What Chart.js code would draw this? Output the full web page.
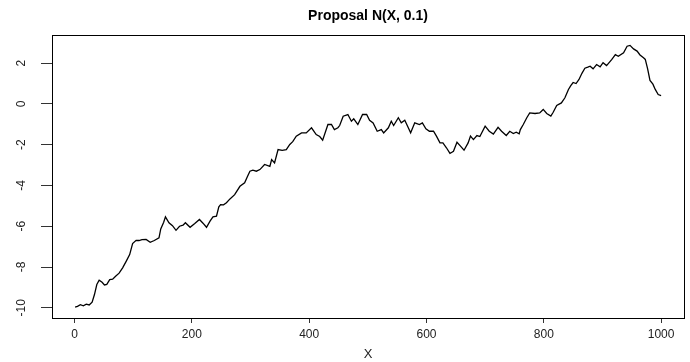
<!DOCTYPE html>
<html>
<head>
<meta charset="utf-8">
<script src="https://cdn.jsdelivr.net/npm/chart.js@4"></script>
<style>
  html, body { margin: 0; padding: 0; background: #fff; }
  canvas { display: block; }
</style>
</head>
<body>
<canvas id="c" width="690" height="362"></canvas>
<script>
// Iteration index of each sampled state of the chain
const iterX = [
  1, 5, 10, 15, 20, 25, 30, 34, 38, 42, 47, 51, 55, 60, 65, 70, 76, 82, 88, 94,
  99, 105, 110, 115, 122, 129, 136, 144, 147, 152, 155, 161, 167, 173, 179, 185, 189, 197, 205, 213,
  219, 225, 231, 236, 242, 246, 249, 254, 259, 265, 273, 282, 290, 295, 299, 304, 310, 316, 324, 333,
  336, 341, 347, 354, 361, 367, 372, 378, 387, 395, 404, 412, 418, 423, 432, 438, 443, 449, 452, 458,
  466, 472, 476, 483, 491, 498, 503, 509, 516, 523, 527, 535, 540, 544, 552, 557, 563, 569, 573, 580,
  588, 593, 599, 605, 612, 617, 623, 628, 634, 640, 646, 652, 658, 664, 671, 675, 680, 686, 691, 700,
  707, 714, 722, 728, 736, 742, 748, 753, 758, 760, 765, 771, 776, 785, 793, 799, 805, 812, 816, 822,
  830, 836, 842, 846, 850, 855, 860, 865, 870, 875, 879, 884, 890, 896, 901, 907, 916, 922, 927, 936,
  942, 947, 953, 959, 964, 970, 973, 977, 981, 986, 990, 995, 1000
];

// State value X at each of those iterations
const chainY = [
  -9.97, -9.93, -9.85, -9.90, -9.82, -9.86, -9.72, -9.35, -8.86, -8.65, -8.75, -8.88, -8.85, -8.62, -8.60, -8.45, -8.30, -8.04, -7.72, -7.39,
  -6.85, -6.69, -6.70, -6.66, -6.65, -6.79, -6.70, -6.57, -6.13, -5.80, -5.54, -5.83, -5.97, -6.20, -6.00, -5.95, -5.83, -6.05, -5.87, -5.67,
  -5.85, -6.05, -5.75, -5.54, -5.51, -5.05, -4.94, -4.95, -4.85, -4.66, -4.45, -4.04, -3.87, -3.55, -3.30, -3.25, -3.30, -3.22, -2.97, -3.06,
  -2.73, -2.89, -2.24, -2.28, -2.24, -1.99, -1.85, -1.58, -1.42, -1.42, -1.17, -1.50, -1.60, -1.78, -1.01, -1.01, -1.26, -1.17, -1.06, -0.60,
  -0.52, -0.85, -0.73, -1.01, -0.52, -0.52, -0.80, -0.93, -1.34, -1.26, -1.42, -1.17, -0.85, -1.06, -0.68, -0.93, -0.80, -1.17, -1.42, -0.93,
  -1.01, -0.93, -1.22, -1.34, -1.34, -1.58, -1.91, -1.91, -2.15, -2.43, -2.32, -1.88, -2.07, -2.27, -1.91, -1.58, -1.75, -1.55, -1.60, -1.09,
  -1.34, -1.48, -1.15, -1.34, -1.55, -1.34, -1.45, -1.39, -1.47, -1.26, -1.01, -0.68, -0.44, -0.47, -0.44, -0.27, -0.47, -0.60, -0.41, -0.08,
  0.05, 0.30, 0.71, 0.90, 1.05, 1.00, 1.20, 1.50, 1.75, 1.80, 1.85, 1.72, 1.93, 1.82, 2.02, 1.88, 2.18, 2.42, 2.34, 2.51,
  2.83, 2.87, 2.70, 2.59, 2.40, 2.26, 2.18, 1.72, 1.15, 0.97, 0.71, 0.46, 0.41
];

const xTicks = [0, 200, 400, 600, 800, 1000];
const yTicks = [-10, -8, -6, -4, -2, 0, 2];
const titleText = 'Proposal N(X, 0.1)';
const xAxisLabel = 'X';

const FONT = "'Liberation Sans', Arial, Helvetica, sans-serif";

// Box around the plot region, rotated y labels, title and x label
const decorations = {
  id: 'decorations',
  afterDraw(chart) {
    const { ctx, chartArea: ca, scales } = chart;
    ctx.save();
    ctx.strokeStyle = '#000';
    ctx.lineWidth = 1;
    ctx.strokeRect(ca.left + 0.5, ca.top + 0.5, ca.width, ca.height);

    ctx.fillStyle = '#222';
    ctx.font = '12px ' + FONT;
    ctx.textAlign = 'center';
    ctx.textBaseline = 'middle';
    yTicks.forEach(v => {
      const py = scales.y.getPixelForValue(v);
      ctx.save();
      ctx.translate(22, py);
      ctx.rotate(-Math.PI / 2);
      ctx.fillText(String(v), 0, 0);
      ctx.restore();
    });

    const cx = (ca.left + ca.right) / 2;
    ctx.fillStyle = '#000';
    ctx.font = 'bold 14px ' + FONT;
    ctx.fillText(titleText, cx, 16);

    ctx.fillStyle = '#222';
    ctx.font = '13px ' + FONT;
    ctx.fillText(xAxisLabel, cx, 354);
    ctx.restore();
  }
};

new Chart(document.getElementById('c'), {
  type: 'line',
  data: {
    datasets: [{
      data: iterX.map((x, i) => ({ x: x, y: chainY[i] })),
      borderColor: '#000',
      borderWidth: 1.3,
      pointRadius: 0,
      tension: 0,
      fill: false
    }]
  },
  options: {
    responsive: false,
    animation: false,
    layout: { padding: { top: 35, right: 6, left: 0, bottom: 0 } },
    plugins: { legend: { display: false }, tooltip: { enabled: false }, title: { display: false } },
    scales: {
      x: {
        type: 'linear',
        min: -38.4,
        max: 1039,
        afterBuildTicks: s => { s.ticks = xTicks.map(v => ({ value: v })); },
        afterFit: s => { s.height = 44; },
        border: { display: false },
        grid: { drawOnChartArea: false, drawTicks: true, tickLength: 5, color: '#333' },
        ticks: {
          font: { family: FONT, size: 12 }, color: '#222', padding: 4,
          maxRotation: 0, autoSkip: false,
          callback: v => String(v)
        }
      },
      y: {
        type: 'linear',
        min: -10.5,
        max: 3.38,
        afterBuildTicks: s => { s.ticks = yTicks.map(v => ({ value: v })); },
        afterFit: s => { s.width = 52; },
        border: { display: false },
        grid: { drawOnChartArea: false, drawTicks: true, tickLength: 11, color: '#333' },
        ticks: { color: 'rgba(0,0,0,0)', font: { family: FONT, size: 12 } }
      }
    }
  },
  plugins: [decorations]
});
</script>
</body>
</html>
